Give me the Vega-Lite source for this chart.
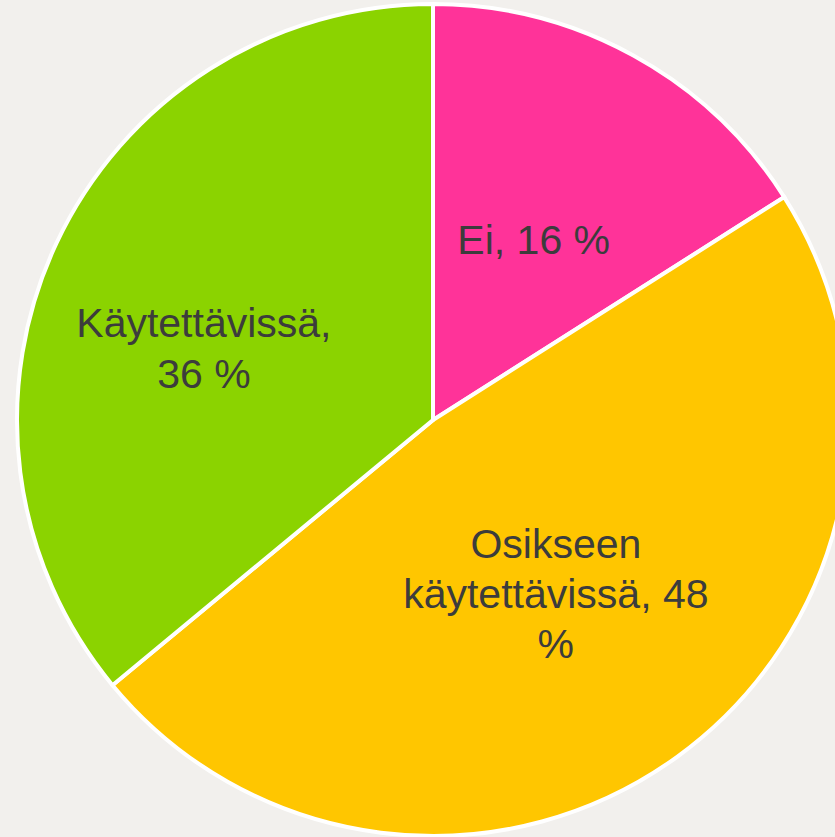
{
  "$schema": "https://vega.github.io/schema/vega-lite/v6.json",
  "width": 804,
  "height": 834,
  "autosize": {"type": "none"},
  "padding": {"left": 31, "top": 3, "right": 0, "bottom": 0},
  "background": "#f2f0ed",
  "config": {"view": {"stroke": null}},
  "data": {
    "values": [
      {"cat": "Ei", "value": 16, "order": 1, "label": "Ei, 16 %"},
      {"cat": "Osikseen käytettävissä", "value": 48, "order": 2, "label": "Osikseen\nkäytettävissä, 48\n%"},
      {"cat": "Käytettävissä", "value": 36, "order": 3, "label": "Käytettävissä,\n36 %"}
    ]
  },
  "encoding": {
    "theta": {"field": "value", "type": "quantitative", "stack": true},
    "order": {"field": "order", "type": "quantitative"}
  },
  "layer": [
    {
      "mark": {"type": "arc", "outerRadius": 416, "stroke": "#ffffff", "strokeWidth": 4},
      "encoding": {
        "color": {
          "field": "cat",
          "type": "nominal",
          "scale": {
            "domain": ["Ei", "Osikseen käytettävissä", "Käytettävissä"],
            "range": ["#ff3399", "#ffc600", "#8bd300"]
          },
          "legend": null
        }
      }
    },
    {
      "mark": {"type": "text", "radius": 209, "dy": 5, "font": "Liberation Sans", "fontWeight": "normal", "fontSize": 41, "color": "#3c3c3c", "lineBreak": "\n", "lineHeight": 50, "align": "center", "baseline": "middle"},
      "encoding": {
        "text": {"condition": {"test": "datum.cat === 'Ei'", "field": "label"}, "value": ""}
      }
    },
    {
      "mark": {"type": "text", "radius": 209, "dy": -43, "font": "Liberation Sans", "fontWeight": "normal", "fontSize": 41, "color": "#3c3c3c", "lineBreak": "\n", "lineHeight": 50, "align": "center", "baseline": "middle"},
      "encoding": {
        "text": {"condition": {"test": "datum.cat === 'Osikseen käytettävissä'", "field": "label"}, "value": ""}
      }
    },
    {
      "mark": {"type": "text", "radius": 209, "dx": -40, "dy": -6, "font": "Liberation Sans", "fontWeight": "normal", "fontSize": 41, "color": "#3c3c3c", "lineBreak": "\n", "lineHeight": 51, "align": "center", "baseline": "middle"},
      "encoding": {
        "text": {"condition": {"test": "datum.cat === 'Käytettävissä'", "field": "label"}, "value": ""}
      }
    }
  ]
}
